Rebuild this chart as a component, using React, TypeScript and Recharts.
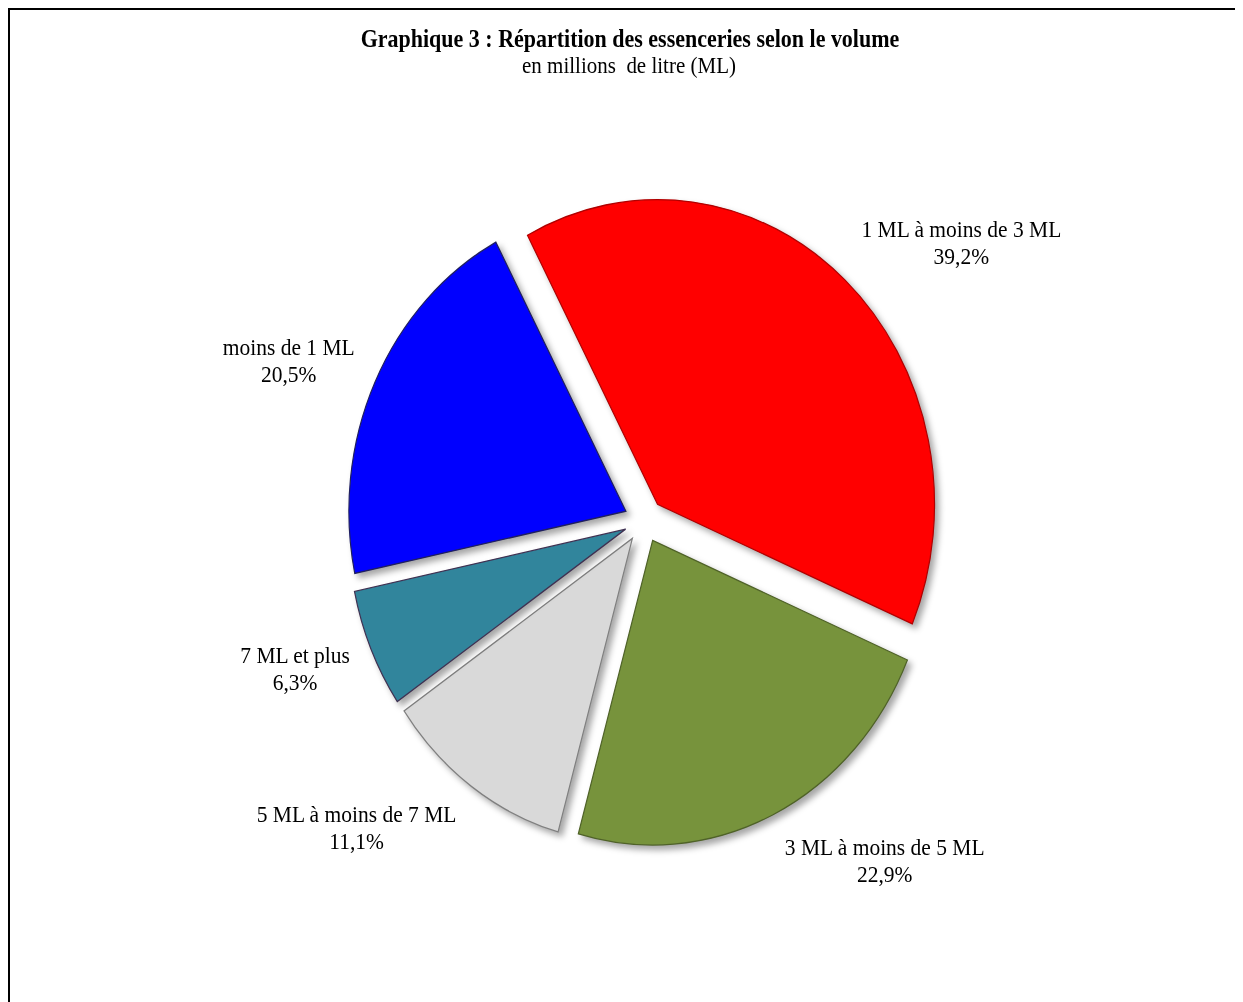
import React from 'react';
import { PieChart, Pie, Cell } from 'recharts';

// ---- data ----
const categories = [
  '1 ML à moins de 3 ML',
  '3 ML à moins de 5 ML',
  '5 ML à moins de 7 ML',
  '7 ML et plus',
  'moins de 1 ML',
];
const shares = [39.2, 22.9, 11.1, 6.3, 20.5];
const fills = ['#FF0000', '#77933C', '#D9D9D9', '#31859C', '#0000FF'];
const strokes = ['#B00000', '#4F6228', '#808080', '#403152', '#1F1F5F'];

const titleText = 'Graphique 3 : Répartition des essenceries selon le volume';
const subtitleText = 'en millions  de litre (ML)';

const data = categories.map((name, i) => ({ name, value: shares[i] }));

// ---- layout ----
const W = 1225;
const H = 895;
const START = 118;
const R = 277;
const EXPLODE = 20;
const LABEL_GAP = 38;
const LABEL_PAD = 4;
const CX = 629;
const CY = 459.1;
const SCALE_Y = 1.1;
const FONT = '"Liberation Serif", "Times New Roman", serif';
const LABEL_SIZE = 21.5;
const LINE = 24.5;
const CAP = LABEL_SIZE * 0.662;

const total = shares.reduce((a, b) => a + b, 0);
const offsets = (() => {
  let cum = 0;
  return shares.map((v) => {
    const mid = START - ((cum + v / 2) / total) * 360;
    cum += v;
    const rad = (mid * Math.PI) / 180;
    return { dx: EXPLODE * Math.cos(rad), dy: -EXPLODE * Math.sin(rad) };
  });
})();

let ctx: CanvasRenderingContext2D | null = null;
function textWidth(s: string, size: number): number {
  if (!ctx) ctx = document.createElement('canvas').getContext('2d');
  if (!ctx) return s.length * size * 0.45;
  ctx.font = `${size}px "Liberation Serif"`;
  return ctx.measureText(s).width;
}

const fmt = (v: number) => v.toFixed(1).replace('.', ',') + '%';

const renderLabel = (props: any) => {
  const { cx, cy, midAngle, outerRadius, index } = props;
  const rad = (midAngle * Math.PI) / 180;
  const cos = Math.cos(rad);
  const sin = Math.sin(rad);
  const rr = outerRadius + LABEL_GAP;
  const px = cx + rr * cos;
  const py = cy - rr * sin;
  const line1 = categories[index];
  const line2 = fmt(shares[index]);
  const w = Math.max(textWidth(line1, LABEL_SIZE), textWidth(line2, LABEL_SIZE));
  const halfH = (LINE + CAP) / 2;
  const tx = cos >= 0 ? px + w / 2 + LABEL_PAD : px - w / 2 - LABEL_PAD;
  const centerY = py - sin * halfH * 1.45;
  const b1 = centerY - LINE / 2 + CAP / 2;
  return (
    <text
      key={`lbl-${index}`}
      textAnchor="middle"
      fontFamily={FONT}
      fontSize={LABEL_SIZE}
      fill="#000"
    >
      <tspan x={tx} y={b1}>{line1}</tspan>
      <tspan x={tx} y={b1 + LINE}>{line2}</tspan>
    </text>
  );
};

export default function App() {
  return (
    <div
      style={{
        position: 'relative',
        width: 1250,
        height: 994,
        borderTop: '2px solid #000',
        borderLeft: '2px solid #000',
        boxSizing: 'border-box',
        overflow: 'hidden',
        background: '#fff',
      }}
    >
      <style>{'html, body { overflow: hidden; }'}</style>
      <div
        style={{
          position: 'absolute',
          left: 0,
          top: 0,
          width: W,
          height: H,
          transform: `scaleY(${SCALE_Y})`,
          transformOrigin: '0 0',
        }}
      >
        <PieChart width={W} height={H}>
          <Pie
            data={data}
            dataKey="value"
            nameKey="name"
            cx={CX}
            cy={CY}
            innerRadius={0}
            outerRadius={R}
            startAngle={START}
            endAngle={START - 360}
            isAnimationActive={false}
            label={renderLabel}
            labelLine={false}
          >
            {data.map((d, i) => (
              <Cell
                key={d.name}
                fill={fills[i]}
                stroke={strokes[i]}
                strokeWidth={1.2}
                style={{
                  transform: `translate(${offsets[i].dx}px, ${offsets[i].dy}px)`,
                  filter: 'drop-shadow(4px 4px 3px rgba(0,0,0,0.35))',
                  outline: 'none',
                }}
              />
            ))}
          </Pie>
        </PieChart>
        <svg
          width={W}
          height={80}
          style={{ position: 'absolute', left: 0, top: 0, pointerEvents: 'none' }}
        >
          <text
            x={620}
            y={33.4}
            textAnchor="middle"
            fontFamily={FONT}
            fontWeight="bold"
            fontSize={22}
            fill="#000"
          >
            {titleText}
          </text>
          <text
            x={619}
            y={57.5}
            textAnchor="middle"
            fontFamily={FONT}
            fontSize={21}
            fill="#000"
            style={{ whiteSpace: 'pre' }}
          >
            {subtitleText}
          </text>
        </svg>
      </div>
    </div>
  );
}
